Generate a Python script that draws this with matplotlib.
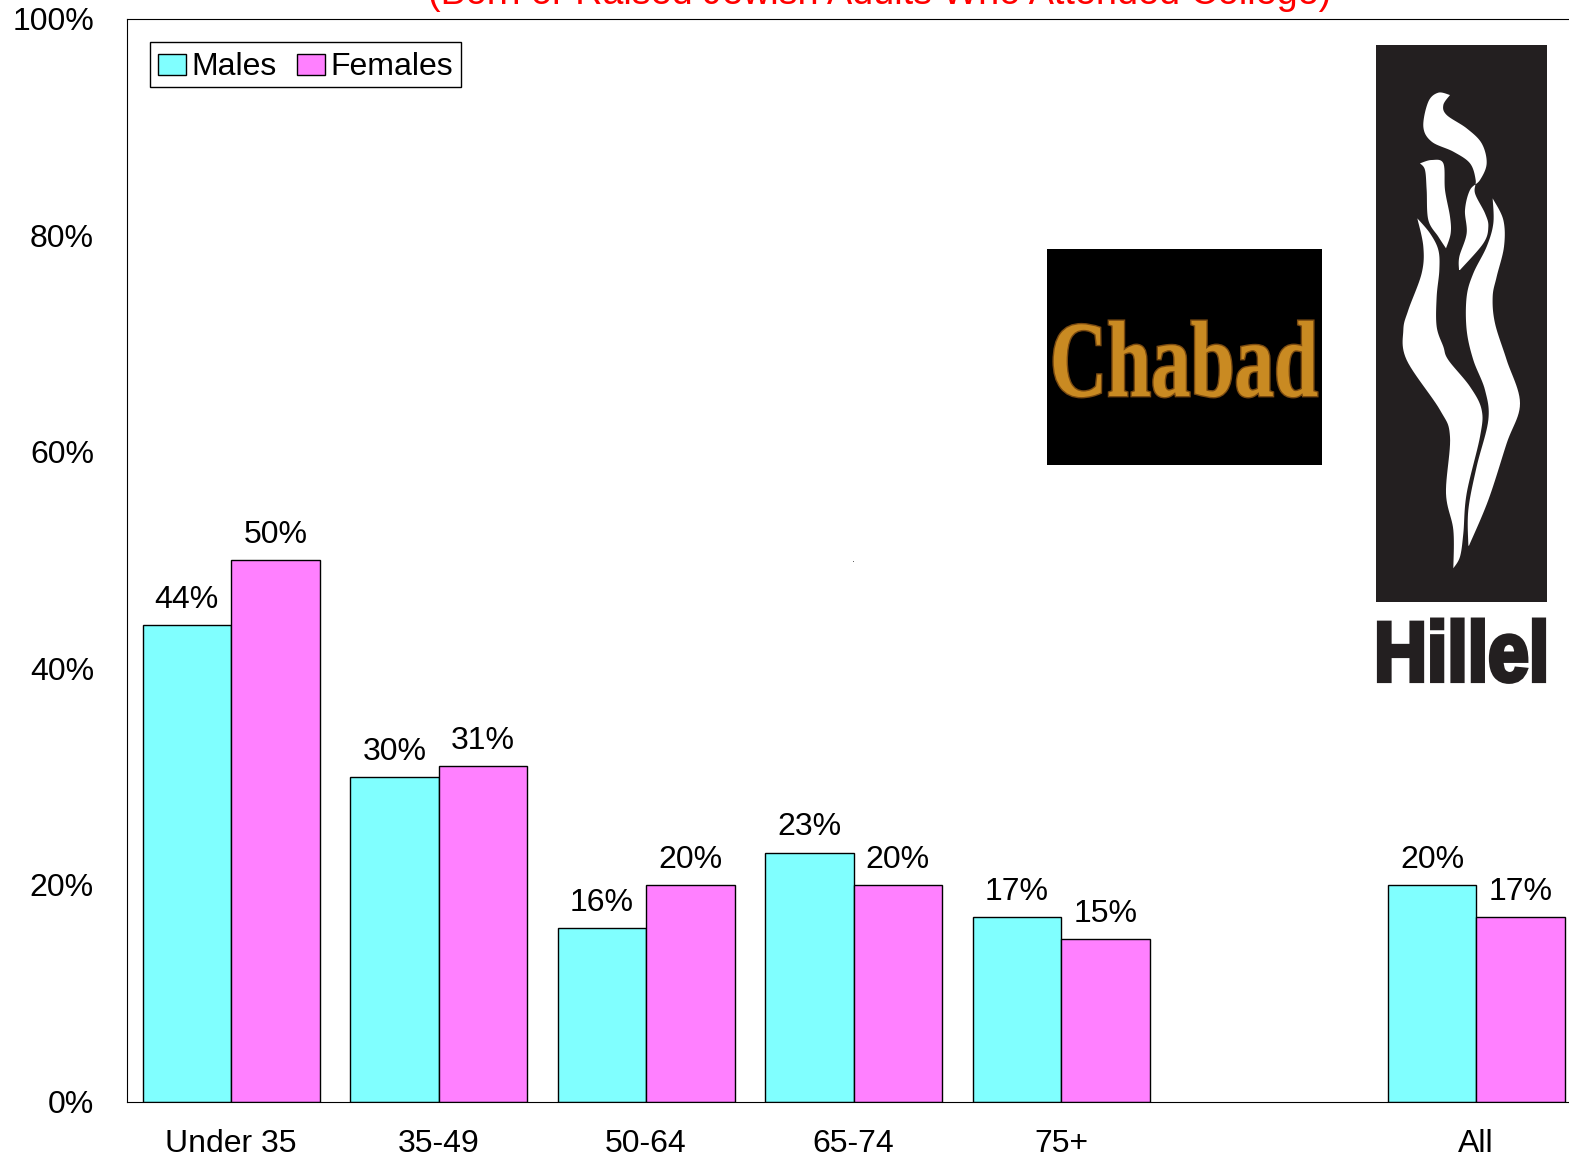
import numpy as np
import matplotlib
matplotlib.use('Agg')
import matplotlib.pyplot as plt
from matplotlib.patches import Rectangle, Polygon
from matplotlib.patheffects import AbstractPathEffect
from matplotlib.transforms import Affine2D

plt.rcParams['font.family'] = ['Liberation Sans', 'DejaVu Sans']

### data
categories = ['Under 35', '35-49', '50-64', '65-74', '75+', '', 'All']
males = [44, 30, 16, 23, 17, np.nan, 20]
females = [50, 31, 20, 20, 15, np.nan, 17]
y_ticks = [0, 20, 40, 60, 80, 100]
title = '(Born or Raised Jewish Adults Who Attended College)'

W, H = 1569, 1158
FS = 23


class Squeeze(AbstractPathEffect):
    # narrows a text horizontally around its x position, optional outline
    def __init__(self, sx, x0, stroke=0, stroke_color=None):
        super().__init__()
        self.sx = sx
        self.x0 = x0
        self.stroke = stroke
        self.stroke_color = stroke_color

    def draw_path(self, renderer, gc, tpath, affine, rgbFace=None):
        t = affine + Affine2D().translate(-self.x0, 0).scale(self.sx, 1).translate(self.x0, 0)
        if self.stroke:
            gc0 = renderer.new_gc()
            gc0.copy_properties(gc)
            gc0.set_linewidth(self.stroke)
            gc0.set_joinstyle('miter')
            gc0.set_foreground(self.stroke_color or rgbFace)
            renderer.draw_path(gc0, tpath, t, rgbFace)
            gc0.restore()
        renderer.draw_path(gc, tpath, t, rgbFace)


def smooth(pts, n=12):
    # catmull-rom through the points, ends stay sharp
    p = np.array(pts, dtype=float)
    p = np.vstack([p[0], p, p[-1]])
    out = []
    for i in range(1, len(p) - 2):
        for t in np.linspace(0, 1, n, endpoint=False):
            out.append(0.5 * (2 * p[i] + (p[i + 1] - p[i - 1]) * t
                              + (2 * p[i - 1] - 5 * p[i] + 4 * p[i + 1] - p[i + 2]) * t ** 2
                              + (3 * p[i] - p[i - 1] - 3 * p[i + 1] + p[i + 2]) * t ** 3))
    out.append(p[-2])
    return np.array(out)


def z4(pts):
    return [(1360 + x / 3, 30 + y / 3) for x, y in pts]


def z5(pts):
    return [(1360 + x / 3, 360 + y / 3) for x, y in pts]


fig = plt.figure(figsize=(W / 100, H / 100), dpi=100)
# the plot area runs past the right edge of the picture
ax = fig.add_axes([127.3 / W, 1 - 1101.5 / H, 1452.7 / W, 1082.5 / H])

index = np.arange(len(categories))
bar_width = 0.4265

m_bars = ax.bar(index - bar_width / 2, males, bar_width, color='#80FFFF', edgecolor='black', linewidth=1, label='Males')
f_bars = ax.bar(index + bar_width / 2, females, bar_width, color='#FF80FF', edgecolor='black', linewidth=1, label='Females')
ax.bar_label(m_bars, fmt='%g%%', fontsize=FS, padding=7.3)
ax.bar_label(f_bars, fmt='%g%%', fontsize=FS, padding=7.3)

ax.set_xlim(-0.5, 6.5)
ax.set_ylim(0, 100)
ax.set_xticks(index)
ax.set_xticklabels(categories, fontsize=FS)
ax.set_yticks(y_ticks)
ax.set_yticklabels([str(v) + '%' for v in y_ticks], fontsize=FS)
ax.tick_params(axis='both', length=0)
ax.tick_params(axis='x', pad=20)
ax.tick_params(axis='y', pad=24)

leg = ax.legend(loc='upper left', bbox_to_anchor=(150 / W, 1 - 41.5 / H), bbox_transform=fig.transFigure,
                ncol=2, fontsize=FS, fancybox=False, framealpha=1, edgecolor='black',
                handlelength=0.88, handleheight=0.64, handletextpad=0.16, columnspacing=0.64,
                borderpad=0.25, borderaxespad=0)
# text and swatches sit a little lower in the box
for t in leg.get_texts():
    t.set_y(-2.2)
for h in leg.legend_handles:
    h.set_y(h.get_y() - 2.2)

fig.text(880 / W, 1 - 4 / H, title, color='#FF0000', fontsize=27.2, ha='center', va='baseline')

### logos, drawn on a full-figure overlay in pixel coordinates
over = fig.add_axes([0, 0, 1, 1], zorder=5)
over.set_xlim(0, W)
over.set_ylim(H, 0)
over.axis('off')

over.add_patch(Rectangle((1047, 249), 275, 216, color='black', lw=0))
over.text(1184, 396, 'Chabad', family='Liberation Serif', weight='bold', fontsize=78, color='#C98A22',
          ha='center', va='baseline',
          path_effects=[Squeeze(0.73, 1184, stroke=2, stroke_color='#7A4A10')])

dark = '#231F20'
over.add_patch(Rectangle((1376, 45), 171, 557, color=dark, lw=0))

top_flame = np.vstack([
    smooth(z4([(270, 195), (235, 188), (205, 215), (190, 290), (215, 335), (280, 365), (330, 400),
               (347, 450), (345, 490), (375, 550), (385, 590), (370, 640), (300, 720)])),
    smooth(z4([(297, 720), (298, 680), (320, 610), (315, 540), (330, 480), (360, 450), (380, 400),
               (365, 340), (320, 295), (260, 255), (250, 225), (270, 195)])),
])
small_flame = np.vstack([
    smooth(z4([(180, 400), (215, 390), (250, 400), (255, 480), (270, 560), (272, 610), (258, 655)])),
    smooth(z4([(258, 655), (235, 620), (205, 570), (200, 480), (195, 420), (180, 400)])),
])
left_flame = np.vstack([
    smooth(z4([(172, 565), (210, 610), (235, 660), (238, 720), (230, 800), (230, 890), (250, 950)])
           + z5([(265, 0), (330, 80), (365, 150), (360, 230), (320, 400), (310, 520), (300, 590), (280, 625)])),
    smooth(z5([(280, 625), (280, 510), (258, 400), (270, 230), (240, 150), (140, 0)])
           + z4([(130, 900), (145, 840), (185, 730), (190, 650), (172, 565)])),
])
right_flame = np.vstack([
    smooth(z4([(398, 505), (430, 570), (432, 650), (410, 740), (398, 800), (405, 880)])
           + z5([(440, 0), (480, 130), (440, 250), (385, 420), (327, 557)])),
    smooth(z5([(325, 557), (325, 450), (350, 320), (385, 180), (375, 90), (340, 0)])
           + z4([(320, 900), (320, 800), (340, 730), (380, 650), (400, 580), (398, 505)])),
])
for flame in [top_flame, small_flame, left_flame, right_flame]:
    over.add_patch(Polygon(flame, closed=True, facecolor='white', edgecolor='none'))

over.text(1461.5, 681, 'Hillel', weight='bold', fontsize=61, color=dark, ha='center', va='baseline',
          path_effects=[Squeeze(0.865, 1461.5, stroke=3, stroke_color=dark)])

over.add_patch(Rectangle((853, 560.5), 1, 1, color='#666666', lw=0))

fig.savefig('out.png', dpi=100)
